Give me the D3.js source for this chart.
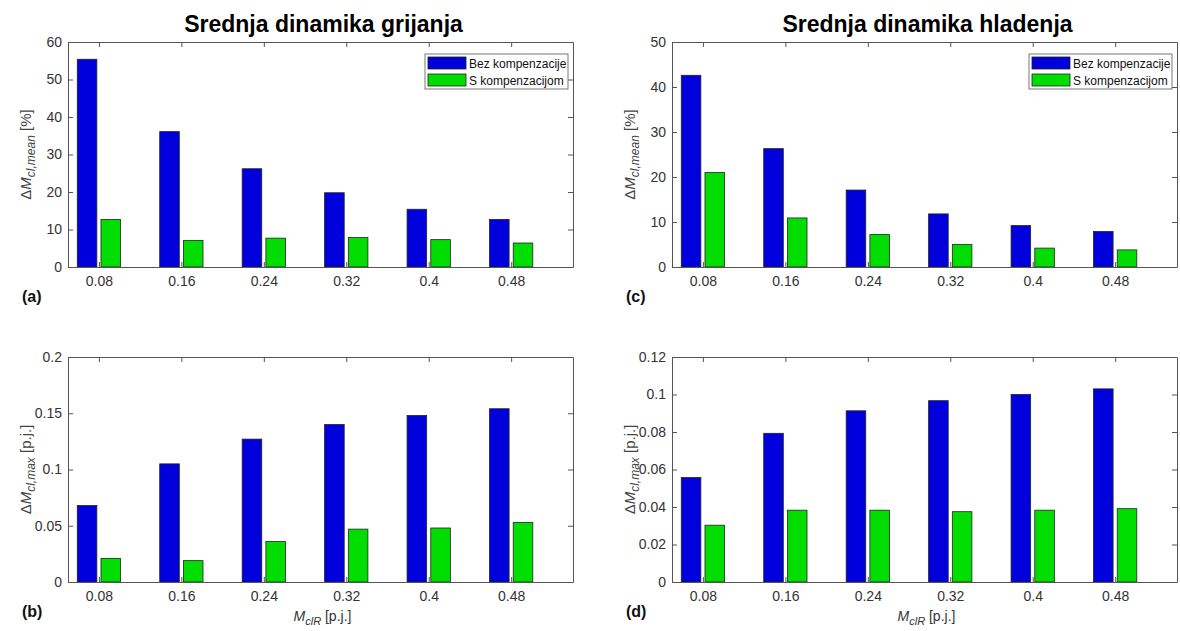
<!DOCTYPE html>
<html>
<head>
<meta charset="utf-8">
<script src="https://cdn.jsdelivr.net/npm/d3@7"></script>
<style>
  body { margin: 0; background: #fff; }
  svg { display: block; font-family: 'Liberation Sans', Arial, sans-serif; }
  .tick text { fill: #333; font-size: 14px; }
  .tick line, .domain { stroke: #555; }
</style>
</head>
<body>
<svg width="1180" height="631"></svg>
<script>
const categories = [0.08, 0.16, 0.24, 0.32, 0.4, 0.48]
const seriesNames = ['Bez kompenzacije', 'S kompenzacijom']
const seriesColors = ['#0000dc', '#00dd00']

// (a) heating, mean
const heatMeanBez = [55.4, 36.1, 26.2, 19.8, 15.4, 12.7]
const heatMeanS = [12.7, 7.1, 7.7, 7.9, 7.3, 6.4]
// (c) cooling, mean
const coolMeanBez = [42.6, 26.3, 17.1, 11.8, 9.2, 7.9]
const coolMeanS = [21.0, 10.9, 7.2, 5.0, 4.2, 3.8]
// (b) heating, max
const heatMaxBez = [0.068, 0.105, 0.127, 0.140, 0.148, 0.154]
const heatMaxS = [0.021, 0.019, 0.036, 0.047, 0.048, 0.053]
// (d) cooling, max
const coolMaxBez = [0.0557, 0.0793, 0.0913, 0.0967, 0.1000, 0.1030]
const coolMaxS = [0.0303, 0.0383, 0.0383, 0.0375, 0.0383, 0.0391]

const yTicksHeatMean = [0, 10, 20, 30, 40, 50, 60]
const yTicksCoolMean = [0, 10, 20, 30, 40, 50]
const yTicksHeatMax = [0, 0.05, 0.1, 0.15, 0.2]
const yTicksCoolMax = [0, 0.02, 0.04, 0.06, 0.08, 0.1, 0.12]

const titles = ['Srednja dinamika grijanja', 'Srednja dinamika hladenja']

const svg = d3.select('svg')

const panels = [
  { left: 68, top: 42, bez: heatMeanBez, s: heatMeanS, ticks: yTicksHeatMean, tag: '(a)', ylab: 'mean', unit: '[%]', title: titles[0], legend: true },
  { left: 672, top: 42, bez: coolMeanBez, s: coolMeanS, ticks: yTicksCoolMean, tag: '(c)', ylab: 'mean', unit: '[%]', title: titles[1], legend: true },
  { left: 68, top: 357, bez: heatMaxBez, s: heatMaxS, ticks: yTicksHeatMax, tag: '(b)', ylab: 'max', unit: '[p.j.]', xlab: true },
  { left: 672, top: 357, bez: coolMaxBez, s: coolMaxS, ticks: yTicksCoolMax, tag: '(d)', ylab: 'max', unit: '[p.j.]', xlab: true }
]

const w = 505
const h = 225
const halfBar = 0.0095
const barOffset = 0.0115

function drawPanel (p) {
  const g = svg.append('g').attr('transform', `translate(${p.left},${p.top})`)
  const x = d3.scaleLinear().domain([0.05, 0.54]).range([0, w])
  const y = d3.scaleLinear().domain([0, d3.max(p.ticks)]).range([h, 0])

  const rows = categories.map((c, i) => ({ c, v: [p.bez[i], p.s[i]] }))
  const groups = g.selectAll('g.grp').data(rows).enter().append('g')
  groups.selectAll('rect').data(d => d.v.map((v, k) => ({ c: d.c, v, k }))).enter().append('rect')
    .attr('x', d => x(d.c + (d.k ? barOffset : -barOffset) - halfBar))
    .attr('width', d => x(d.c + halfBar) - x(d.c - halfBar))
    .attr('y', d => y(d.v))
    .attr('height', d => h - y(d.v))
    .attr('fill', d => seriesColors[d.k])
    .attr('stroke', '#222')
    .attr('stroke-width', 0.8)

  const fmt = d => String(+d.toFixed(4))
  g.append('g').call(d3.axisLeft(y).tickValues(p.ticks).tickFormat(fmt).tickSize(-5).tickSizeOuter(0).tickPadding(6))
  g.append('g').attr('transform', `translate(${w},0)`)
    .call(d3.axisRight(y).tickValues(p.ticks).tickFormat('').tickSize(-5).tickSizeOuter(0))
  g.append('g').attr('transform', `translate(0,${h})`)
    .call(d3.axisBottom(x).tickValues(categories).tickFormat(fmt).tickSize(-5).tickSizeOuter(0).tickPadding(9))
  g.append('g')
    .call(d3.axisTop(x).tickValues(categories).tickFormat('').tickSize(-5).tickSizeOuter(0))

  // y label
  const yl = g.append('text')
    .attr('transform', `translate(${-37},${h / 2}) rotate(-90)`)
    .attr('text-anchor', 'middle')
    .attr('fill', '#444')
    .attr('font-size', 15)
  yl.append('tspan').text('Δ')
  yl.append('tspan').attr('font-style', 'italic').text('M')
  yl.append('tspan').attr('font-style', 'italic').attr('font-size', 12).attr('dy', 4).text('cl,' + p.ylab)
  yl.append('tspan').attr('dy', -4).text(' ' + p.unit)

  // panel tag
  g.append('text').attr('x', -46).attr('y', h + 35)
    .attr('font-weight', 'bold').attr('font-size', 16).attr('fill', '#111')
    .text(p.tag)

  if (p.xlab) {
    const xl = g.append('text').attr('x', w / 2 + 2).attr('y', h + 39)
      .attr('text-anchor', 'middle').attr('fill', '#333').attr('font-size', 14)
    xl.append('tspan').attr('font-style', 'italic').text('M')
    xl.append('tspan').attr('font-style', 'italic').attr('font-size', 11).attr('dy', 4).text('clR')
    xl.append('tspan').attr('dy', -4).text(' [p.j.]')
  }

  if (p.title) {
    g.append('text').attr('x', w / 2 + 3).attr('y', -10)
      .attr('text-anchor', 'middle').attr('font-weight', 'bold').attr('font-size', 23)
      .attr('fill', '#000').text(p.title)
  }

  if (p.legend) {
    const lg = g.append('g').attr('transform', `translate(${w - 148},12)`)
    lg.append('rect').attr('width', 143).attr('height', 35)
      .attr('fill', '#fff').attr('stroke', '#555').attr('stroke-width', 0.8)
    seriesNames.forEach((name, k) => {
      lg.append('rect').attr('x', 3).attr('y', 3 + k * 17).attr('width', 38).attr('height', 12)
        .attr('fill', seriesColors[k]).attr('stroke', '#222').attr('stroke-width', 0.8)
      lg.append('text').attr('x', 44).attr('y', 13.5 + k * 17)
        .attr('font-size', 12).attr('fill', '#111').text(name)
    })
  }
}

panels.forEach(drawPanel)
</script>
</body>
</html>
